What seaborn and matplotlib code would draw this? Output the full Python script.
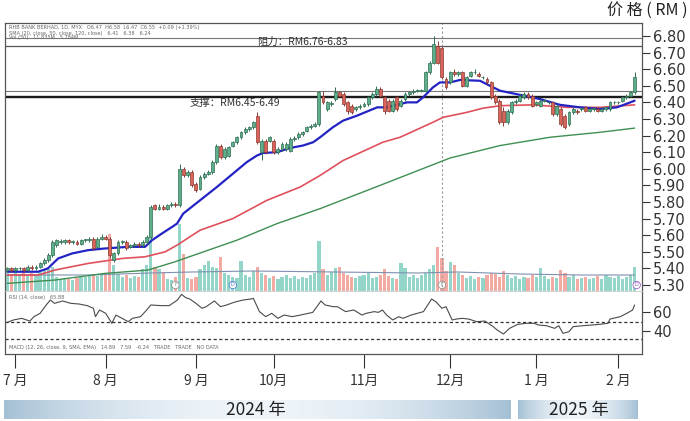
import numpy as np
import matplotlib
matplotlib.use("Agg")
import matplotlib.pyplot as plt
import seaborn as sns
from matplotlib.colors import LinearSegmentedColormap

# ---------------- data ----------------
open_ = [
    5.39, 5.40, 5.39, 5.40, 5.40, 5.39, 5.41, 5.40, 5.41, 5.43,
    5.45, 5.48, 5.54, 5.56, 5.56, 5.57, 5.56, 5.56, 5.55, 5.57,
    5.57, 5.58, 5.53, 5.58, 5.59, 5.58, 5.45, 5.49, 5.56, 5.56,
    5.53, 5.54, 5.55, 5.54, 5.56, 5.59, 5.78, 5.76, 5.77, 5.76,
    5.78, 5.79, 5.78, 6.00, 5.96, 5.98, 5.91, 5.88, 5.95, 5.97,
    5.98, 6.04, 6.14, 6.07, 6.08, 6.14, 6.16, 6.19, 6.22, 6.24,
    6.25, 6.32, 6.10, 6.17, 6.17, 6.17, 6.10, 6.12, 6.12, 6.11,
    6.18, 6.19, 6.21, 6.23, 6.25, 6.26, 6.27, 6.44, 6.36, 6.39,
    6.42, 6.46, 6.45, 6.40, 6.38, 6.36, 6.37, 6.38, 6.39, 6.43,
    6.45, 6.48, 6.43, 6.41, 6.35, 6.43, 6.38, 6.42, 6.45, 6.46,
    6.47, 6.47, 6.47, 6.58, 6.64, 6.74, 6.73, 6.54, 6.52, 6.58,
    6.57, 6.58, 6.50, 6.56, 6.58, 6.57, 6.55, 6.54, 6.52, 6.44,
    6.41, 6.35, 6.28, 6.34, 6.40, 6.41, 6.43, 6.45, 6.44, 6.39,
    6.38, 6.41, 6.40, 6.40, 6.33, 6.36, 6.32, 6.27, 6.34, 6.35,
    6.36, 6.37, 6.35, 6.36, 6.36, 6.35, 6.36, 6.36, 6.40, 6.40,
    6.41, 6.43, 6.44, 6.46]
close_ = [
    5.40, 5.39, 5.40, 5.40, 5.39, 5.41, 5.40, 5.41, 5.43, 5.45,
    5.48, 5.56, 5.57, 5.56, 5.57, 5.56, 5.56, 5.55, 5.57, 5.57,
    5.57, 5.52, 5.58, 5.59, 5.58, 5.48, 5.49, 5.56, 5.56, 5.52,
    5.54, 5.55, 5.54, 5.56, 5.59, 5.77, 5.76, 5.77, 5.76, 5.78,
    5.79, 5.78, 6.00, 5.96, 5.98, 5.90, 5.87, 5.95, 5.97, 5.98,
    6.04, 6.14, 6.07, 6.12, 6.13, 6.16, 6.19, 6.22, 6.24, 6.25,
    6.28, 6.16, 6.17, 6.10, 6.19, 6.10, 6.12, 6.15, 6.15, 6.18,
    6.18, 6.21, 6.22, 6.25, 6.26, 6.27, 6.46, 6.40, 6.40, 6.39,
    6.46, 6.44, 6.39, 6.35, 6.34, 6.37, 6.38, 6.39, 6.43, 6.45,
    6.48, 6.44, 6.35, 6.35, 6.41, 6.36, 6.41, 6.45, 6.46, 6.47,
    6.47, 6.47, 6.58, 6.64, 6.75, 6.64, 6.55, 6.49, 6.58, 6.57,
    6.58, 6.50, 6.55, 6.58, 6.58, 6.56, 6.55, 6.52, 6.43, 6.40,
    6.28, 6.28, 6.35, 6.40, 6.41, 6.44, 6.45, 6.43, 6.38, 6.40,
    6.41, 6.41, 6.40, 6.33, 6.38, 6.27, 6.25, 6.34, 6.36, 6.34,
    6.36, 6.35, 6.36, 6.36, 6.35, 6.36, 6.37, 6.40, 6.40, 6.40,
    6.43, 6.44, 6.46, 6.55]
high_ = [
    5.41, 5.41, 5.41, 5.41, 5.41, 5.42, 5.42, 5.42, 5.44, 5.46,
    5.49, 5.57, 5.58, 5.58, 5.58, 5.58, 5.57, 5.57, 5.58, 5.58,
    5.59, 5.59, 5.59, 5.61, 5.60, 5.59, 5.50, 5.57, 5.57, 5.57,
    5.55, 5.56, 5.56, 5.57, 5.60, 5.78, 5.79, 5.79, 5.78, 5.79,
    5.80, 5.80, 6.03, 6.01, 5.99, 5.99, 5.92, 5.96, 5.98, 5.99,
    6.05, 6.15, 6.15, 6.13, 6.14, 6.17, 6.20, 6.23, 6.25, 6.26,
    6.29, 6.34, 6.18, 6.18, 6.20, 6.18, 6.13, 6.16, 6.16, 6.19,
    6.20, 6.22, 6.23, 6.26, 6.27, 6.28, 6.47, 6.47, 6.41, 6.41,
    6.49, 6.47, 6.46, 6.41, 6.39, 6.38, 6.39, 6.40, 6.44, 6.46,
    6.50, 6.49, 6.44, 6.42, 6.42, 6.44, 6.42, 6.46, 6.47, 6.48,
    6.48, 6.48, 6.59, 6.65, 6.80, 6.77, 6.74, 6.55, 6.59, 6.60,
    6.59, 6.59, 6.56, 6.59, 6.60, 6.58, 6.56, 6.55, 6.53, 6.45,
    6.42, 6.37, 6.36, 6.41, 6.42, 6.45, 6.46, 6.46, 6.45, 6.41,
    6.42, 6.42, 6.41, 6.41, 6.39, 6.37, 6.33, 6.35, 6.37, 6.36,
    6.37, 6.38, 6.37, 6.37, 6.37, 6.37, 6.38, 6.41, 6.41, 6.41,
    6.44, 6.45, 6.47, 6.58]
low_ = [
    5.38, 5.38, 5.38, 5.39, 5.38, 5.38, 5.39, 5.39, 5.40, 5.42,
    5.44, 5.47, 5.53, 5.55, 5.55, 5.55, 5.55, 5.54, 5.54, 5.56,
    5.56, 5.51, 5.52, 5.57, 5.57, 5.46, 5.44, 5.48, 5.55, 5.51,
    5.52, 5.53, 5.53, 5.53, 5.55, 5.58, 5.75, 5.75, 5.75, 5.75,
    5.77, 5.77, 5.77, 5.95, 5.95, 5.89, 5.86, 5.87, 5.94, 5.96,
    5.97, 6.03, 6.06, 6.06, 6.07, 6.13, 6.15, 6.18, 6.21, 6.23,
    6.24, 6.15, 6.05, 6.09, 6.16, 6.09, 6.09, 6.11, 6.11, 6.10,
    6.17, 6.18, 6.20, 6.22, 6.24, 6.25, 6.26, 6.39, 6.35, 6.38,
    6.41, 6.43, 6.38, 6.33, 6.33, 6.35, 6.36, 6.37, 6.38, 6.42,
    6.44, 6.43, 6.33, 6.34, 6.34, 6.35, 6.37, 6.41, 6.44, 6.45,
    6.46, 6.46, 6.46, 6.57, 6.63, 6.63, 6.54, 6.48, 6.51, 6.56,
    6.56, 6.49, 6.49, 6.55, 6.57, 6.55, 6.54, 6.51, 6.42, 6.39,
    6.27, 6.26, 6.27, 6.33, 6.39, 6.40, 6.42, 6.42, 6.37, 6.38,
    6.37, 6.40, 6.39, 6.32, 6.32, 6.26, 6.24, 6.26, 6.33, 6.33,
    6.35, 6.34, 6.34, 6.35, 6.34, 6.34, 6.35, 6.35, 6.39, 6.39,
    6.40, 6.42, 6.43, 6.45]
volume = [
    18, 16, 19, 17, 20, 16, 18, 17, 19, 21,
    22, 24, 14, 12, 13, 12, 11, 13, 15, 14,
    16, 17, 15, 16, 16, 57, 26, 17, 14, 16,
    13, 15, 14, 22, 26, 60, 24, 22, 19, 12,
    11, 14, 67, 37, 13, 12, 14, 22, 26, 30,
    24, 23, 34, 18, 16, 14, 13, 30, 16, 14,
    20, 24, 18, 16, 13, 15, 12, 14, 16, 13,
    15, 12, 14, 13, 16, 18, 50, 22, 16, 19,
    23, 24, 18, 16, 14, 13, 15, 16, 18, 13,
    14, 16, 22, 15, 13, 12, 28, 23, 14, 16,
    13, 16, 18, 22, 26, 44, 33, 20, 29, 26,
    18, 16, 13, 15, 12, 14, 13, 16, 18, 17,
    14, 20, 16, 13, 15, 12, 14, 13, 16, 14,
    23, 15, 12, 14, 13, 21, 18, 14, 16, 12,
    13, 14, 12, 13, 15, 12, 16, 14, 13, 15,
    12, 14, 16, 24]

ma20_pts = [(0, 5.38), (7.5, 5.38), (9.9, 5.40), (12.4, 5.46), (15.8, 5.49), (19.7, 5.51),
            (23.8, 5.52), (29.5, 5.53), (33.6, 5.53), (35.3, 5.57), (37.7, 5.61), (40.2, 5.65),
            (41.4, 5.67), (42.9, 5.73), (47, 5.81), (51.1, 5.89), (55, 5.97), (58.4, 6.04),
            (60.9, 6.08), (62.4, 6.095), (65.8, 6.10), (68.9, 6.125), (72.1, 6.14), (74.6, 6.16),
            (76.3, 6.19), (79.4, 6.25), (81.9, 6.29), (85.3, 6.32), (90.2, 6.37), (92.6, 6.37),
            (97.5, 6.40), (99.9, 6.40), (101.4, 6.43), (103.8, 6.49), (105.5, 6.52), (108, 6.52),
            (110.4, 6.535), (115.3, 6.53), (117.7, 6.50), (120.2, 6.47), (125.1, 6.445),
            (129.9, 6.42), (134.8, 6.385), (139.7, 6.37), (144.6, 6.36), (148.7, 6.37), (153, 6.41)]
ma50_pts = [(0, 5.36), (7.5, 5.36), (11.6, 5.39), (19.7, 5.43), (28, 5.46), (33.6, 5.47),
            (38.5, 5.50), (41.4, 5.54), (47, 5.63), (55, 5.70), (63.3, 5.81), (71.4, 5.89),
            (76.3, 5.96), (81.9, 6.05), (91.6, 6.16), (95.8, 6.19), (103.8, 6.28), (106.3, 6.31),
            (112.1, 6.34), (116, 6.365), (120.2, 6.38), (128.2, 6.385), (136.5, 6.37),
            (144.6, 6.37), (153, 6.385)]
ma120_pts = [(0, 5.31), (11.6, 5.33), (23.8, 5.37), (34.3, 5.39), (40.9, 5.44), (56, 5.57),
             (65.8, 5.67), (76.3, 5.76), (90.9, 5.90), (108, 6.065), (115.3, 6.11),
             (120.2, 6.14), (132.4, 6.19), (144.6, 6.22), (153, 6.245)]
volma_pts = [(0, 16), (20, 16), (35, 18), (45, 19), (60, 20), (80, 19), (100, 18),
             (110, 19), (125, 17), (140, 16), (153, 16)]
rsi_pts = [(0, 49.1), (1.5, 51.6), (3.5, 53.3), (5.5, 50.5), (6.5, 55.1), (8, 58.6), (9.5, 67.4),
           (10.5, 72.6), (11.5, 69.1), (13.5, 71.6), (15.5, 69.1), (17.5, 68.4), (19.5, 66.7),
           (21, 63.9), (21.5, 55.1), (22.5, 62.1), (24, 58.6), (25.5, 48.1), (26.5, 56.8),
           (28, 53.3), (29.5, 49.8), (30.5, 53.3), (32.5, 55.1), (34, 62.1), (35, 67.4),
           (37.5, 66.7), (39.5, 66.7), (41.5, 72.6), (42.5, 78.6), (43.5, 75.1), (44.5, 73.7),
           (46, 69.1), (47.5, 63.9), (48.5, 65.6), (50.5, 71.6), (52, 65.6), (53.5, 67.4),
           (55.5, 70.5), (57.5, 72.6), (59.5, 73.7), (60, 74.4), (61.5, 60.4), (63, 55.1),
           (64.5, 58.6), (66, 53.3), (67.5, 56.8), (69.5, 55.1), (71.5, 56.8), (74.5, 59.6),
           (76.5, 71.6), (77.5, 67.4), (79.5, 65.6), (80.5, 65.6), (82.5, 60.4), (84.5, 62.1),
           (86.5, 56.8), (87.5, 58.6), (89.5, 60.4), (90.5, 59.6), (91.5, 62.1), (92.5, 56.8),
           (94, 51.6), (95.5, 55.1), (96.5, 53.3), (98.5, 56.8), (101.5, 60.4), (103.5, 73.7),
           (104.5, 70.9), (106, 63.9), (107, 65.6), (108.5, 51.6), (109.5, 52.6), (111, 53.3),
           (112.5, 52.6), (114.5, 49.8), (116.5, 50.5), (118.5, 44.6), (119.5, 41.0),
           (121, 36.8), (122.5, 42.8), (124.5, 47.0), (126.5, 48.1), (128.5, 48.1),
           (129.5, 46.3), (131.5, 45.6), (133.5, 42.8), (134.5, 45.6), (135.5, 37.5),
           (137, 39.3), (138, 44.6), (140.5, 45.6), (144.5, 47.0), (146.5, 48.1), (147, 52.6),
           (149.5, 55.1), (151.5, 59.6), (152.5, 62.1), (153, 67.4)]

month_pos = [2, 24, 46, 65, 87, 108, 129, 149]
month_labels = ["7 月", "8 月", "9 月", "10月", "11月", "12月", "1 月", "2 月"]
price_ticks = [5.30, 5.40, 5.50, 5.60, 5.70, 5.80, 5.90, 6.00, 6.10, 6.20, 6.30,
               6.40, 6.50, 6.60, 6.70, 6.80]
rsi_ticks = [40, 60]
rsi_levels = [50, 31.5]
resist_lines = [6.79, 6.742]
support_lines = [6.47, 6.434]
resist_label = "阻力：RM6.76-6.83"
support_label = "支撑：RM6.45-6.49"
crosshair_idx = 106
year_labels = ["2024 年", "2025 年"]
event_marks = [(41, "F", "#888888"), (55, "D", "#3b6fd0"), (106, "F", "#888888"),
               (153.5, "D", "#8a4fb5")]

# ---------------- style ----------------
sns.set_theme(style="white")
plt.rcParams['font.family'] = ['Noto Sans CJK SC', 'DejaVu Sans']

W, H = 690, 421
fig = plt.figure(figsize=(W / 100, H / 100), dpi=100)
fig.patch.set_facecolor('white')


def fr(x0, y0, x1, y1):
    return [x0 / W, 1 - y1 / H, (x1 - x0) / W, (y1 - y0) / H]


ax = fig.add_axes(fr(5, 23, 642, 291))
axr = fig.add_axes(fr(5, 291, 642, 354), sharex=ax)
axv = ax.twinx()
axv.set_zorder(1)
ax.set_zorder(2)
ax.patch.set_visible(False)

n = len(open_)
idx = np.arange(n)
o = np.array(open_); c = np.array(close_)
hi = np.array(high_); lo = np.array(low_)
up = c >= o

# volume
vcol = np.where(up, '#93d5c9', '#f3aaa2')
axv.bar(idx, volume, width=0.78, color=vcol, linewidth=0)
sns.lineplot(x=[p[0] for p in volma_pts], y=[p[1] for p in volma_pts], ax=axv,
             color='#8090b0', linewidth=0.8, estimator=None, sort=False, legend=False)
for xi, lab, colr in event_marks:
    axv.text(xi, 6, lab, fontsize=3.5, ha='center', va='center', color=colr,
             family='DejaVu Sans',
             bbox=dict(boxstyle='circle,pad=0.25', fc='white', ec=colr, lw=0.5))
axv.set_ylim(0, 268)
axv.set_yticks([])
for s in axv.spines.values():
    s.set_visible(False)

# reference lines
for lvl, lw, colr in zip(resist_lines, [0.8, 0.9], ['#777777', '#555555']):
    ax.axhline(lvl, color=colr, lw=lw, zorder=1)
for lvl, lw, colr in zip(support_lines, [0.8, 1.7], ['#777777', '#1a1a1a']):
    ax.axhline(lvl, color=colr, lw=lw, zorder=1)
ax.axvline(crosshair_idx, color='#9a9a9a', lw=0.8, ls=(0, (2, 2)), zorder=1)

# moving averages
for pts, colr, lw in [(ma120_pts, '#3f8f52', 1.0), (ma50_pts, '#e0505c', 1.2),
                      (ma20_pts, '#2323c4', 1.6)]:
    sns.lineplot(x=[p[0] for p in pts], y=[p[1] for p in pts], ax=ax, color=colr,
                 linewidth=lw, estimator=None, sort=False, legend=False, zorder=3)

# candles
body_c = np.where(up, '#5fae8a', '#d8645a')
edge_c = np.where(up, '#2e6e52', '#8c3a32')
ax.vlines(idx, lo, hi, colors=edge_c, linewidth=0.7, zorder=4)
ax.bar(idx, np.maximum(np.abs(c - o), 0.005), bottom=np.minimum(o, c), width=0.72,
       color=body_c, edgecolor=edge_c, linewidth=0.5, zorder=5)

ax.text(72, 6.766, resist_label, fontsize=7.5, ha='center', va='center', color='#333333',
        zorder=6)
ax.text(55.5, 6.396, support_label, fontsize=7.5, ha='center', va='center', color='#333333',
        zorder=6)

ax.set_xlim(-0.56, 154.8)
ax.set_ylim(5.264, 6.878)
ax.yaxis.tick_right()
ax.set_yticks(price_ticks)
ax.set_yticklabels([f"{v:.2f}" for v in price_ticks])
ax.tick_params(axis='y', direction='out', length=6, width=0.8, colors='#333333',
               labelsize=10.5, pad=2, right=True, left=False)
for lbl in ax.get_yticklabels():
    lbl.set_fontfamily('DejaVu Sans')
ax.tick_params(axis='x', bottom=False, labelbottom=False)
ax.set_xlabel(''); ax.set_ylabel(''); axv.set_ylabel('')
for name, s in ax.spines.items():
    s.set_color('#555555'); s.set_linewidth(0.9)
ax.spines['bottom'].set_color('#cccccc'); ax.spines['bottom'].set_linewidth(0.6)

# RSI panel
sns.lineplot(x=[p[0] for p in rsi_pts], y=[p[1] for p in rsi_pts], ax=axr, color='#4a4a4a',
             linewidth=0.8, estimator=None, sort=False, legend=False)
for lvl in rsi_levels:
    axr.axhline(lvl, color='#333333', lw=0.9, ls=(0, (2.5, 2)))
axr.set_ylim(15.8, 82.1)
axr.yaxis.tick_right()
axr.set_yticks(rsi_ticks)
axr.set_yticklabels([str(t) for t in rsi_ticks])
axr.tick_params(axis='y', direction='out', length=6, width=0.8, colors='#333333',
                labelsize=10.5, pad=2, right=True, left=False)
for lbl in axr.get_yticklabels():
    lbl.set_fontfamily('DejaVu Sans')
axr.set_xticks(month_pos)
axr.set_xticklabels(month_labels)
axr.tick_params(axis='x', direction='out', length=10, width=0.8, colors='#333333',
                labelsize=10, pad=4, bottom=True)
axr.set_xlabel(''); axr.set_ylabel('')
for name, s in axr.spines.items():
    s.set_color('#555555'); s.set_linewidth(0.9)
axr.spines['top'].set_visible(False)
axr.set_xlim(-0.56, 154.8)

# small header texts
small = dict(fontsize=3.6, color='#666666', family='DejaVu Sans', va='center', ha='left')
fig.text(9 / W, 1 - 28 / H, "RHB BANK BERHAD, 1D, MYX   O6.47  H6.58  L6.47  C6.55  +0.09 (+1.39%)", **small)
fig.text(9 / W, 1 - 33 / H, "SMA (20, close, 50, close, 120, close)   6.41   6.38   6.24", **small)
fig.text(9 / W, 1 - 38 / H, "Vol (50)   11.835M   5.784M", **small)
fig.text(9 / W, 1 - 297 / H, "RSI (14, close)   65.88", **small)
fig.text(9 / W, 1 - 347 / H, "MACD (12, 26, close, 9, SMA, EMA)   14.89   7.59   -6.24   TRADE   TRADE   NO DATA", **small)

fig.text(688 / W, 1 - 10 / H, "价 格 ( RM )", fontsize=11.5, ha='right', va='center',
         color='#222222')

# year band
yb = fig.add_axes(fr(0, 400, 690, 419))
cmap = LinearSegmentedColormap.from_list('band', ['#a3bfd4', '#eef4f9'])
t1 = np.linspace(0, 1, 300)
yb.imshow(np.sin(np.pi * t1)[None, :] ** 0.8, extent=[4, 511, 0, 1], aspect='auto',
          cmap=cmap, vmin=0, vmax=1)
yb.imshow(np.sin(np.pi * t1)[None, :] ** 0.8, extent=[518, 638, 0, 1], aspect='auto',
          cmap=cmap, vmin=0, vmax=1)
yb.text(256, 0.5, year_labels[0], fontsize=12.5, ha='center', va='center', color='#222222')
yb.text(579, 0.5, year_labels[1], fontsize=12.5, ha='center', va='center', color='#222222')
yb.set_xlim(0, 690); yb.set_ylim(0, 1)
yb.axis('off')

fig.savefig('out.png', dpi=100, facecolor='white')
